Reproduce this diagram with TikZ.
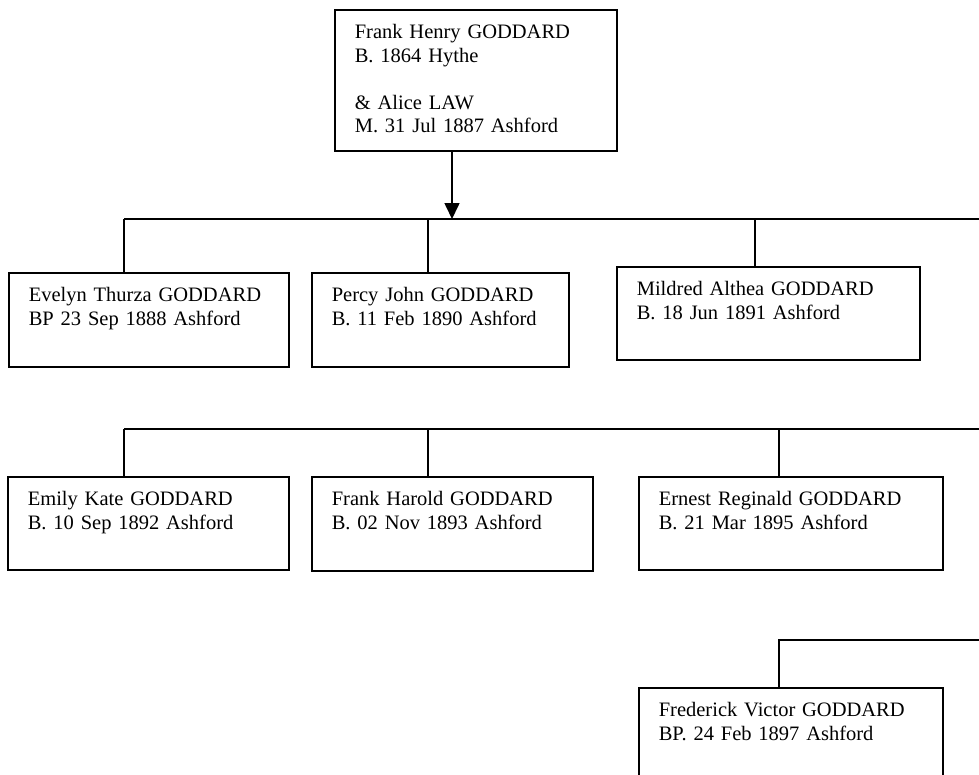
\documentclass[tikz,border=0pt]{standalone}
\usepackage{fontspec}
\setmainfont{Liberation Serif}
\usetikzlibrary{arrows.meta}

\begin{document}
\begin{tikzpicture}[x=1pt,y=-1pt,line width=1.6pt,
  person/.style={draw,anchor=north west,align=left,inner xsep=20pt,inner ysep=15pt,
    text height=14pt,font=\fontsize{20.5}{23.5}\selectfont}]
\useasboundingbox (0,0) rectangle (979,774);
% Parents
\node[person,text width=242pt,text depth=97pt] (father) at (334,9)
  {Frank Henry GODDARD\\B. 1864 Hythe\\[23.5pt]\& Alice LAW\\M. 31 Jul 1887 Ashford};
\coordinate (fatherout) at ([xshift=118pt]father.south west);
% Row 1
\coordinate (row1L) at (124,219);
\coordinate (row1R) at (979,219);
\draw (row1L) -- (row1R);
\draw[-{Triangle[width=15pt,length=16pt]}] (fatherout) -- (fatherout |- row1L);
\node[person,text width=240pt,text depth=50pt] (evelyn) at (8,272)
  {Evelyn Thurza GODDARD\\BP 23 Sep 1888 Ashford};
\node[person,text width=217pt,text depth=50pt] (percy) at (311,272)
  {Percy John GODDARD\\B. 11 Feb 1890 Ashford};
\node[person,text width=263pt,text depth=49pt] (mildred) at (616,266)
  {Mildred Althea GODDARD\\B. 18 Jun 1891 Ashford};
\coordinate (evelyntop) at ([xshift=116pt]evelyn.north west);
\coordinate (percytop) at ([xshift=117pt]percy.north west);
\coordinate (mildredtop) at ([xshift=139pt]mildred.north west);
\draw (evelyntop) -- (evelyntop |- row1L);
\draw (percytop) -- (percytop |- row1L);
\draw (mildredtop) -- (mildredtop |- row1L);
% Row 2
\coordinate (row2L) at (124,429);
\coordinate (row2R) at (979,429);
\draw (row2L) -- (row2R);
\node[person,text width=241pt,text depth=49pt] (emily) at (7,476)
  {Emily Kate GODDARD\\B. 10 Sep 1892 Ashford};
\node[person,text width=241pt,text depth=50pt] (frankh) at (311,476)
  {Frank Harold GODDARD\\B. 02 Nov 1893 Ashford};
\node[person,text width=264pt,text depth=49pt] (ernest) at (638,476)
  {Ernest Reginald GODDARD\\B. 21 Mar 1895 Ashford};
\coordinate (emilytop) at ([xshift=117pt]emily.north west);
\coordinate (frankhtop) at ([xshift=117pt]frankh.north west);
\coordinate (ernesttop) at ([xshift=141pt]ernest.north west);
\draw (emilytop) -- (emilytop |- row2L);
\draw (frankhtop) -- (frankhtop |- row2L);
\draw (ernesttop) -- (ernesttop |- row2L);
% Row 3
\coordinate (row3R) at (979,640);
\node[person,text width=264pt,text depth=50pt] (frederick) at (638,687)
  {Frederick Victor GODDARD\\BP. 24 Feb 1897 Ashford};
\coordinate (fredericktop) at ([xshift=141pt]frederick.north west);
\draw (fredericktop) |- (row3R);
\end{tikzpicture}
\end{document}
